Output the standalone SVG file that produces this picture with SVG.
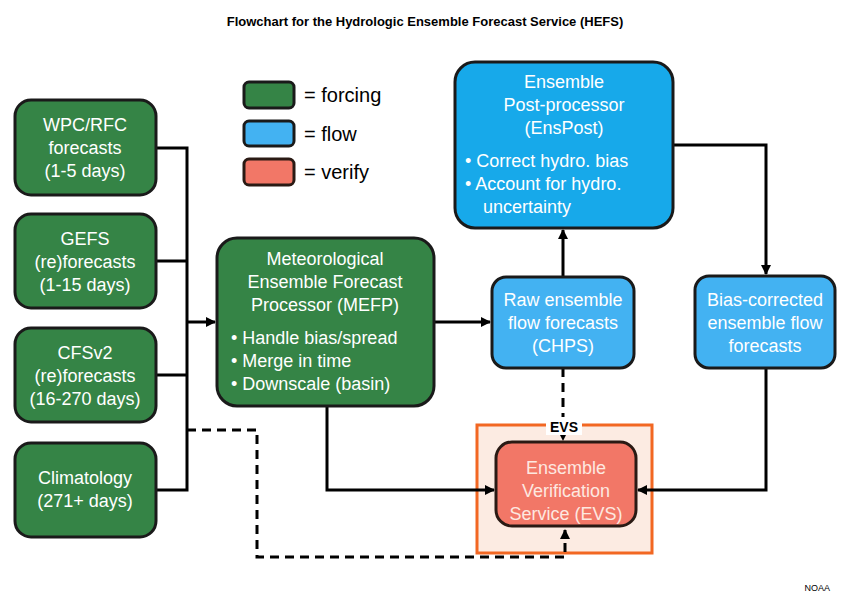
<svg xmlns="http://www.w3.org/2000/svg" width="850" height="600" viewBox="0 0 850 600">
<style>
text{font-family:"Liberation Sans",Arial,sans-serif;font-size:18px;fill:#fff}
.g{fill:#358446;stroke:#1a1a1a;stroke-width:3}
.b{fill:#17a9ea;stroke:#1a1a1a;stroke-width:3}
.b2{fill:#43b2f2;stroke:#1a1a1a;stroke-width:3}
.r{fill:#f27767;stroke:#2a1a14;stroke-width:3}
.c{fill:none;stroke:#000;stroke-width:3}
.d{fill:none;stroke:#000;stroke-width:3;stroke-dasharray:9 6}
</style>
<defs>
<marker id="m" markerWidth="10" markerHeight="10" refX="9" refY="5" orient="auto" markerUnits="userSpaceOnUse"><path d="M0,0L10,5L0,10z" fill="#000"/></marker></defs>
<rect width="850" height="600" fill="#fff"/>
<text x="425" y="26" text-anchor="middle" style="font-size:13px;font-weight:bold;fill:#000">Flowchart for the Hydrologic Ensemble Forecast Service (HEFS)</text>
<text x="830" y="591" text-anchor="end" style="font-size:9px;fill:#000">NOAA</text>
<rect x="477" y="425" width="175" height="128" fill="#fcebe2" stroke="#f26722" stroke-width="3"/>
<g id="connectors">
<path class="c" d="M156,148H187V490H156M156,261H187M156,375H187"/>
<path class="c" d="M187,322H215" marker-end="url(#m)"/>
<path class="c" d="M434,322H490" marker-end="url(#m)"/>
<path class="c" d="M563,277V230" marker-end="url(#m)"/>
<path class="c" d="M673,145H766V274" marker-end="url(#m)"/>
<path class="c" d="M766,368V490H638" marker-end="url(#m)"/>
<path class="c" d="M327,406V490H494" marker-end="url(#m)"/>
<path class="d" d="M563,368V440" marker-end="url(#m)"/>
<path class="d" d="M187,430H257V557H565V530" marker-end="url(#m)"/>
</g>
<rect x="546" y="417" width="36" height="18" fill="#fff"/>
<text x="564" y="432" text-anchor="middle" style="font-size:14px;font-weight:bold;fill:#000">EVS</text>
<g id="legend">
<rect class="g" x="244" y="82" width="50" height="26" rx="5"/><text x="304" y="102" style="font-size:20px;fill:#000">= forcing</text>
<rect class="b2" x="244" y="121" width="50" height="25" rx="5"/><text x="304" y="141" style="font-size:20px;fill:#000">= flow</text>
<rect class="r" x="244" y="159" width="50" height="26" rx="5"/><text x="304" y="179" style="font-size:20px;fill:#000">= verify</text>
</g>
<g id="wpc"><rect class="g" x="15" y="100" width="141" height="95" rx="16"/><text text-anchor="middle"><tspan x="85" y="131">WPC/RFC</tspan><tspan x="85" y="154">forecasts</tspan><tspan x="85" y="177">(1-5 days)</tspan></text></g>
<g id="gefs"><rect class="g" x="15" y="214" width="141" height="94" rx="16"/><text text-anchor="middle"><tspan x="85" y="245">GEFS</tspan><tspan x="85" y="268">(re)forecasts</tspan><tspan x="85" y="291">(1-15 days)</tspan></text></g>
<g id="cfs"><rect class="g" x="15" y="328" width="141" height="94" rx="16"/><text text-anchor="middle"><tspan x="85" y="359">CFSv2</tspan><tspan x="85" y="382">(re)forecasts</tspan><tspan x="85" y="405">(16-270 days)</tspan></text></g>
<g id="clim"><rect class="g" x="15" y="443" width="141" height="94" rx="16"/><text text-anchor="middle"><tspan x="85" y="484">Climatology</tspan><tspan x="85" y="507">(271+ days)</tspan></text></g>
<g id="mefp"><rect class="g" x="217" y="238" width="217" height="168" rx="20"/><text text-anchor="middle"><tspan x="325" y="265">Meteorological</tspan><tspan x="325" y="288">Ensemble Forecast</tspan><tspan x="325" y="311">Processor (MEFP)</tspan></text>
<text><tspan x="231" y="344">•  Handle bias/spread</tspan><tspan x="231" y="367">•  Merge in time</tspan><tspan x="231" y="390">•  Downscale (basin)</tspan></text></g>
<g id="enspost"><rect class="b" x="455" y="62" width="218" height="166" rx="20"/><text text-anchor="middle"><tspan x="564" y="88">Ensemble</tspan><tspan x="564" y="111">Post-processor</tspan><tspan x="564" y="134">(EnsPost)</tspan></text>
<text><tspan x="465" y="167">•  Correct hydro. bias</tspan><tspan x="465" y="190">•  Account for hydro.</tspan><tspan x="483" y="213">uncertainty</tspan></text></g>
<g id="raw"><rect class="b2" x="492" y="277" width="142" height="91" rx="14"/><text text-anchor="middle"><tspan x="563" y="306">Raw ensemble</tspan><tspan x="563" y="329">flow forecasts</tspan><tspan x="563" y="352">(CHPS)</tspan></text></g>
<g id="bias"><rect class="b2" x="695" y="276" width="140" height="92" rx="14"/><text text-anchor="middle"><tspan x="765" y="306">Bias-corrected</tspan><tspan x="765" y="329">ensemble flow</tspan><tspan x="765" y="352">forecasts</tspan></text></g>
<g id="evs"><rect class="r" x="496" y="442" width="140" height="84" rx="16"/><text text-anchor="middle" style="fill:#fde8e0"><tspan x="566" y="474">Ensemble</tspan><tspan x="566" y="497">Verification</tspan><tspan x="566" y="520">Service (EVS)</tspan></text></g>
</svg>
